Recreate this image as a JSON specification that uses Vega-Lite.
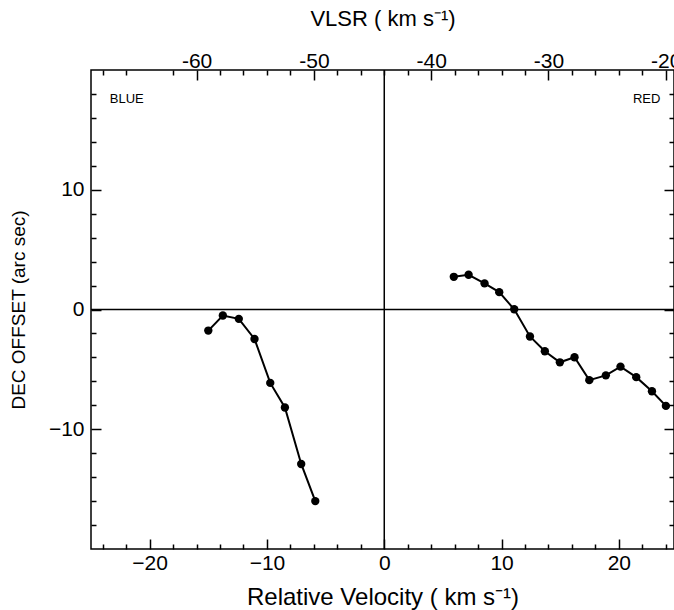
{
  "$schema": "https://vega.github.io/schema/vega-lite/v6.json",
  "width": 583,
  "height": 479,
  "autosize": "none",
  "padding": {"left": 91, "top": 70, "right": 0, "bottom": 61},
  "background": "white",
  "config": {
    "view": {"stroke": "black", "strokeWidth": 1.5},
    "axis": {
      "domain": false,
      "grid": false,
      "tickColor": "black",
      "tickWidth": 1.5,
      "labelColor": "black",
      "labelFont": "Liberation Sans",
      "labelFontSize": 21,
      "titleFont": "Liberation Sans",
      "titleFontWeight": "normal",
      "titleColor": "black",
      "labelFlush": false,
      "labelOverlap": false
    }
  },
  "datasets": {
    "pts": [
      {"side": "blue", "rel": -15.0, "dec": -1.76},
      {"side": "blue", "rel": -13.76, "dec": -0.5},
      {"side": "blue", "rel": -12.4, "dec": -0.78},
      {"side": "blue", "rel": -11.06, "dec": -2.46},
      {"side": "blue", "rel": -9.72, "dec": -6.13},
      {"side": "blue", "rel": -8.47, "dec": -8.18},
      {"side": "blue", "rel": -7.08, "dec": -12.9},
      {"side": "blue", "rel": -5.88, "dec": -16.0},
      {"side": "red", "rel": 5.93, "dec": 2.73},
      {"side": "red", "rel": 7.19, "dec": 2.9},
      {"side": "red", "rel": 8.55, "dec": 2.18},
      {"side": "red", "rel": 9.8, "dec": 1.45},
      {"side": "red", "rel": 11.08, "dec": 0.02},
      {"side": "red", "rel": 12.42, "dec": -2.25},
      {"side": "red", "rel": 13.69, "dec": -3.49},
      {"side": "red", "rel": 14.97, "dec": -4.41},
      {"side": "red", "rel": 16.22, "dec": -3.99},
      {"side": "red", "rel": 17.48, "dec": -5.9},
      {"side": "red", "rel": 18.89, "dec": -5.5},
      {"side": "red", "rel": 20.14, "dec": -4.77},
      {"side": "red", "rel": 21.48, "dec": -5.65},
      {"side": "red", "rel": 22.82, "dec": -6.83},
      {"side": "red", "rel": 24.01, "dec": -8.05}
    ],
    "notes": [
      {"label": "BLUE", "rel": -23.4, "dec": 17.6},
      {"label": "RED", "rel": 21.2, "dec": 17.6}
    ],
    "zero": [{"v": 0}]
  },
  "layer": [
    {
      "data": {"name": "zero"},
      "mark": {"type": "rule", "color": "black", "strokeWidth": 1.5},
      "encoding": {
        "y": {"field": "v", "type": "quantitative", "scale": {"domain": [-20, 20], "nice": false, "zero": false}, "axis": null}
      }
    },
    {
      "data": {"name": "zero"},
      "mark": {"type": "rule", "color": "black", "strokeWidth": 1.5},
      "encoding": {
        "x": {"field": "v", "type": "quantitative", "scale": {"domain": [-25, 24.7], "nice": false, "zero": false}, "axis": null}
      }
    },
    {
      "data": {"name": "pts"},
      "mark": {"type": "line", "color": "black", "strokeWidth": 2},
      "encoding": {
        "x": {
          "field": "rel", "type": "quantitative",
          "scale": {"domain": [-25, 24.7], "nice": false, "zero": false},
          "axis": {
            "orient": "bottom", "values": [-20, -10, 0, 10, 20],
            "tickSize": -10, "labelPadding": 13,
            "title": "Relative Velocity ( km s⁻¹)", "titleFontSize": 24, "titlePadding": 12
          }
        },
        "y": {
          "field": "dec", "type": "quantitative",
          "scale": {"domain": [-20, 20], "nice": false, "zero": false},
          "axis": {
            "orient": "left", "values": [-10, 0, 10],
            "tickSize": -10, "labelPadding": 17,
            "title": "DEC OFFSET (arc sec)", "titleFontSize": 19, "titlePadding": 20
          }
        },
        "detail": {"field": "side"}
      }
    },
    {
      "data": {"name": "pts"},
      "mark": {"type": "circle", "color": "black", "opacity": 1, "size": 70},
      "encoding": {
        "x": {
          "field": "rel", "type": "quantitative",
          "scale": {"domain": [-25, 24.7], "nice": false, "zero": false},
          "axis": {
            "orient": "bottom",
            "values": [-24, -22, -18, -16, -14, -12, -8, -6, -4, -2, 2, 4, 6, 8, 12, 14, 16, 18, 22, 24],
            "tickSize": -5, "labels": false, "title": null
          }
        },
        "y": {
          "field": "dec", "type": "quantitative",
          "scale": {"domain": [-20, 20], "nice": false, "zero": false},
          "axis": {
            "orient": "left",
            "values": [-18, -16, -14, -12, -8, -6, -4, -2, 2, 4, 6, 8, 12, 14, 16, 18],
            "tickSize": -5, "labels": false, "title": null
          }
        }
      }
    },
    {
      "data": {"name": "pts"},
      "mark": {"type": "circle", "color": "black", "opacity": 0, "size": 10},
      "encoding": {
        "x": {
          "field": "rel", "type": "quantitative",
          "scale": {"domain": [-25, 24.7], "nice": false, "zero": false},
          "axis": {
            "orient": "top", "values": [-16, -6, 4, 14, 24],
            "labelExpr": "toString(datum.value - 44)",
            "tickSize": -10, "labelPadding": 9,
            "title": "VLSR ( km s⁻¹)", "titleFontSize": 22, "titlePadding": 20
          }
        },
        "y": {
          "field": "dec", "type": "quantitative",
          "scale": {"domain": [-20, 20], "nice": false, "zero": false},
          "axis": {
            "orient": "right", "values": [-10, 0, 10],
            "tickSize": -10, "labels": false, "title": null
          }
        }
      }
    },
    {
      "data": {"name": "notes"},
      "mark": {"type": "text", "color": "black", "font": "Liberation Sans", "fontSize": 13, "letterSpacing": 1, "align": "left", "baseline": "middle"},
      "encoding": {
        "text": {"field": "label"},
        "x": {
          "field": "rel", "type": "quantitative",
          "scale": {"domain": [-25, 24.7], "nice": false, "zero": false},
          "axis": {
            "orient": "top",
            "values": [-24, -22, -18, -14, -12, -10, -8, -4, -2, 0, 2, 6, 8, 10, 12, 16, 18, 20, 22],
            "tickSize": -5, "labels": false, "title": null
          }
        },
        "y": {
          "field": "dec", "type": "quantitative",
          "scale": {"domain": [-20, 20], "nice": false, "zero": false},
          "axis": {
            "orient": "right",
            "values": [-18, -16, -14, -12, -8, -6, -4, -2, 2, 4, 6, 8, 12, 14, 16, 18],
            "tickSize": -5, "labels": false, "title": null
          }
        }
      }
    }
  ],
  "resolve": {"axis": {"x": "independent", "y": "independent"}}
}
